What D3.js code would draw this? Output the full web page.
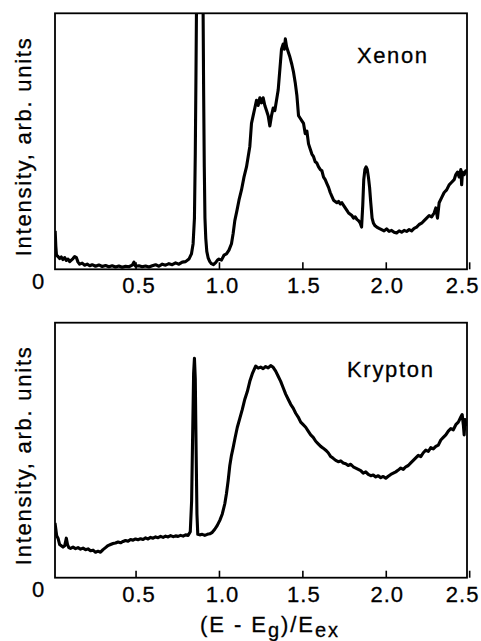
<!DOCTYPE html>
<html>
<head>
<meta charset="utf-8">
<script src="https://cdn.jsdelivr.net/npm/d3@7"></script>
<style>
  html, body { margin: 0; padding: 0; background: #fff; }
  svg { display: block; }
  text { font-family: "Liberation Sans", Arial, Helvetica, sans-serif; fill: #000; stroke: #000; stroke-width: 0.3px; }
</style>
</head>
<body>
<svg id="chart" width="481" height="641"></svg>
<script>
// Reduced photon energy (E - Eg)/Eex and intensity (arb. units) for xenon
const xenonX = [0.018,0.022,0.026,0.035,0.045,0.055,0.065,0.075,0.085,0.095,0.105,0.115,0.125,0.135,0.145,0.155,0.165,0.18,0.195,0.21,0.225,0.24,0.26,0.28,0.3,0.32,0.34,0.36,0.38,0.4,0.42,0.44,0.46,0.48,0.49,0.5,0.52,0.54,0.56,0.58,0.6,0.62,0.64,0.66,0.68,0.7,0.72,0.74,0.76,0.78,0.8,0.82,0.835,0.845,0.853,0.858,0.862,0.865,0.867,0.903,0.905,0.908,0.912,0.916,0.921,0.927,0.935,0.945,0.955,0.967,0.98,0.99,1.0,1.015,1.03,1.045,1.06,1.075,1.085,1.095,1.108,1.12,1.135,1.15,1.165,1.175,1.185,1.195,1.205,1.215,1.225,1.235,1.245,1.255,1.265,1.275,1.285,1.295,1.305,1.315,1.325,1.335,1.345,1.355,1.365,1.375,1.385,1.392,1.398,1.405,1.415,1.425,1.437,1.447,1.457,1.467,1.477,1.487,1.497,1.507,1.517,1.527,1.537,1.547,1.557,1.567,1.577,1.587,1.597,1.607,1.617,1.627,1.637,1.647,1.657,1.667,1.677,1.687,1.697,1.707,1.717,1.727,1.737,1.747,1.757,1.767,1.777,1.787,1.797,1.807,1.817,1.827,1.837,1.847,1.855,1.862,1.868,1.875,1.882,1.889,1.896,1.903,1.91,1.918,1.926,1.936,1.946,1.96,1.975,1.99,2.005,2.02,2.035,2.05,2.065,2.08,2.095,2.11,2.125,2.14,2.155,2.17,2.185,2.2,2.215,2.23,2.245,2.26,2.275,2.29,2.3,2.31,2.32,2.335,2.35,2.365,2.38,2.395,2.41,2.42,2.43,2.44,2.45,2.455,2.46,2.47,2.48,2.486];
const xenonY = [0.15,0.09,0.055,0.05,0.042,0.048,0.038,0.046,0.035,0.04,0.03,0.036,0.042,0.05,0.046,0.028,0.02,0.024,0.016,0.02,0.014,0.018,0.012,0.017,0.011,0.015,0.01,0.014,0.009,0.013,0.008,0.012,0.01,0.016,0.028,0.012,0.014,0.01,0.013,0.009,0.014,0.018,0.012,0.02,0.016,0.022,0.018,0.025,0.02,0.028,0.03,0.04,0.06,0.1,0.2,0.45,0.75,1.0,1.3,1.3,1.0,0.7,0.4,0.2,0.12,0.07,0.045,0.03,0.022,0.018,0.026,0.035,0.04,0.036,0.055,0.06,0.075,0.1,0.14,0.19,0.23,0.27,0.31,0.36,0.4,0.44,0.48,0.57,0.6,0.63,0.66,0.64,0.67,0.65,0.67,0.64,0.62,0.6,0.56,0.6,0.63,0.62,0.66,0.7,0.78,0.86,0.88,0.86,0.9,0.87,0.85,0.83,0.8,0.77,0.73,0.68,0.6,0.59,0.58,0.57,0.53,0.54,0.49,0.47,0.45,0.44,0.42,0.415,0.4,0.39,0.385,0.36,0.35,0.335,0.32,0.3,0.285,0.27,0.265,0.26,0.265,0.255,0.26,0.25,0.24,0.23,0.22,0.215,0.21,0.2,0.205,0.195,0.19,0.18,0.165,0.25,0.35,0.39,0.4,0.39,0.36,0.32,0.26,0.2,0.18,0.17,0.165,0.16,0.155,0.15,0.158,0.148,0.152,0.145,0.142,0.15,0.145,0.152,0.148,0.155,0.15,0.16,0.165,0.175,0.18,0.19,0.2,0.21,0.205,0.22,0.24,0.2,0.26,0.28,0.3,0.31,0.33,0.34,0.35,0.37,0.38,0.36,0.39,0.33,0.38,0.37,0.385,0.38];

// Same quantities for krypton
const kryptonX = [0.017,0.022,0.027,0.035,0.045,0.055,0.065,0.075,0.085,0.092,0.1,0.11,0.125,0.14,0.155,0.17,0.185,0.2,0.215,0.23,0.245,0.26,0.275,0.29,0.305,0.32,0.335,0.35,0.365,0.38,0.395,0.41,0.425,0.44,0.455,0.47,0.485,0.5,0.515,0.53,0.545,0.56,0.575,0.59,0.605,0.62,0.635,0.65,0.665,0.68,0.695,0.71,0.725,0.74,0.755,0.77,0.785,0.8,0.815,0.828,0.836,0.842,0.848,0.853,0.858,0.863,0.868,0.873,0.885,0.9,0.915,0.93,0.945,0.96,0.975,0.99,1.005,1.02,1.035,1.045,1.055,1.065,1.075,1.085,1.097,1.11,1.125,1.14,1.155,1.17,1.185,1.2,1.21,1.22,1.235,1.25,1.265,1.28,1.295,1.31,1.325,1.34,1.355,1.37,1.385,1.4,1.415,1.43,1.445,1.46,1.475,1.49,1.505,1.52,1.535,1.55,1.565,1.58,1.595,1.61,1.625,1.64,1.655,1.67,1.685,1.7,1.715,1.73,1.745,1.76,1.775,1.79,1.805,1.82,1.835,1.85,1.865,1.88,1.895,1.91,1.925,1.94,1.955,1.97,1.985,2.0,2.015,2.03,2.045,2.06,2.075,2.09,2.105,2.12,2.135,2.15,2.165,2.18,2.195,2.21,2.225,2.24,2.255,2.27,2.285,2.3,2.315,2.33,2.345,2.36,2.375,2.39,2.405,2.42,2.435,2.45,2.458,2.465,2.47,2.475,2.48,2.486];
const kryptonY = [0.215,0.19,0.165,0.155,0.13,0.125,0.12,0.125,0.155,0.13,0.118,0.115,0.12,0.114,0.118,0.112,0.116,0.11,0.113,0.106,0.108,0.1,0.104,0.1,0.11,0.118,0.126,0.13,0.134,0.136,0.14,0.137,0.142,0.146,0.143,0.15,0.147,0.152,0.149,0.153,0.15,0.156,0.152,0.158,0.155,0.16,0.157,0.162,0.158,0.163,0.16,0.165,0.161,0.164,0.162,0.166,0.163,0.168,0.166,0.18,0.3,0.55,0.8,0.86,0.78,0.5,0.25,0.17,0.168,0.17,0.166,0.17,0.172,0.178,0.19,0.205,0.225,0.25,0.29,0.33,0.38,0.44,0.48,0.51,0.55,0.59,0.625,0.66,0.7,0.73,0.77,0.8,0.815,0.83,0.822,0.826,0.82,0.828,0.823,0.832,0.825,0.81,0.79,0.77,0.745,0.72,0.7,0.68,0.665,0.645,0.63,0.61,0.6,0.59,0.575,0.56,0.55,0.535,0.525,0.515,0.508,0.5,0.49,0.475,0.468,0.46,0.455,0.458,0.45,0.447,0.44,0.445,0.435,0.43,0.425,0.42,0.41,0.415,0.405,0.4,0.403,0.395,0.4,0.392,0.397,0.39,0.398,0.405,0.41,0.415,0.422,0.43,0.425,0.435,0.44,0.45,0.46,0.47,0.48,0.475,0.49,0.5,0.495,0.51,0.505,0.515,0.52,0.54,0.55,0.56,0.575,0.585,0.58,0.6,0.61,0.63,0.64,0.6,0.56,0.62,0.6,0.61];

const tickValues = [0.5, 1.0, 1.5, 2.0, 2.5];
const tickLabels = ["0.5", "1.0", "1.5", "2.0", "2.5"];
const panelNames = ["Xenon", "Krypton"];
const yAxisTitle = "Intensity, arb. units";

const svg = d3.select("#chart");

const x = d3.scaleLinear().domain([0.017, 2.487]).range([55, 467]);

const panels = [
  { name: panelNames[0], xs: xenonX, ys: xenonY, top: 13.3, bottom: 269.3, labelX: 357, labelY: 63, labelW: 70, tickBase: 293, zeroBase: 289 },
  { name: panelNames[1], xs: kryptonX, ys: kryptonY, top: 322.7, bottom: 577.7, labelX: 347, labelY: 377, labelW: 86, tickBase: 602, zeroBase: 597 }
];

panels.forEach((p, i) => {
  const y = d3.scaleLinear().domain([0, 1]).range([p.bottom, p.top]);
  const g = svg.append("g");
  const clipId = "clip" + i;

  g.append("clipPath").attr("id", clipId)
    .append("rect")
    .attr("x", x.range()[0]).attr("y", p.top)
    .attr("width", x.range()[1] - x.range()[0])
    .attr("height", p.bottom - p.top);

  // spectrum trace
  const pts = p.xs.map((v, k) => [v, p.ys[k]]);
  g.append("path")
    .datum(pts)
    .attr("clip-path", `url(#${clipId})`)
    .attr("fill", "none")
    .attr("stroke", "#000")
    .attr("stroke-width", 3.1)
    .attr("stroke-linejoin", "round")
    .attr("d", d3.line().x(d => x(d[0])).y(d => y(d[1])));

  // bottom axis with inward ticks
  const axis = d3.axisBottom(x)
    .tickValues(tickValues)
    .tickSizeInner(-7)
    .tickSizeOuter(0)
    .tickFormat((d, k) => tickLabels[k]);
  const ax = g.append("g")
    .attr("transform", `translate(0,${p.bottom})`)
    .call(axis);
  ax.select(".domain").remove();
  ax.selectAll(".tick line").attr("stroke", "#000").attr("stroke-width", 1.6);
  ax.selectAll(".tick text")
    .attr("y", null).attr("dy", null)
    .attr("transform", `translate(0,${p.tickBase - p.bottom})`)
    .attr("dx", d => d === 2.5 ? -7 : (d < 1.4 ? 3 : 1))
    .style("font-family", '"Liberation Sans", Arial, sans-serif')
    .style("font-size", "22px")
    .style("letter-spacing", "1px")
    .attr("fill", "#000");

  // frame
  g.append("rect")
    .attr("x", x.range()[0]).attr("y", p.top)
    .attr("width", x.range()[1] - x.range()[0])
    .attr("height", p.bottom - p.top)
    .attr("fill", "none")
    .attr("stroke", "#000")
    .attr("stroke-width", 1.8);

  // zero of the intensity scale
  g.append("text")
    .attr("x", 38).attr("y", p.zeroBase)
    .attr("text-anchor", "middle")
    .style("font-size", "22px")
    .text("0");

  // y-axis title
  const cy = (p.top + p.bottom) / 2 + 6;
  g.append("text")
    .attr("transform", `translate(31,${cy}) rotate(-90)`)
    .attr("text-anchor", "middle")
    .attr("textLength", 218)
    .attr("lengthAdjust", "spacing")
    .style("font-size", "22px")
    .text(yAxisTitle);

  // element name
  g.append("text")
    .attr("x", p.labelX).attr("y", p.labelY)
    .attr("textLength", p.labelW)
    .attr("lengthAdjust", "spacing")
    .style("font-size", "22px")
    .text(p.name);
});

// x-axis title (E - Eg)/Eex
const xt = svg.append("text")
  .attr("x", 200).attr("y", 632)
  .attr("textLength", 138)
  .attr("lengthAdjust", "spacing")
  .style("font-size", "22px");
xt.append("tspan").text("(E - E");
xt.append("tspan").attr("dy", 5).style("font-size", "20px").text("g");
xt.append("tspan").attr("dy", -5).text(")/E");
xt.append("tspan").attr("dy", 5).style("font-size", "20px").text("ex");
</script>
</body>
</html>
